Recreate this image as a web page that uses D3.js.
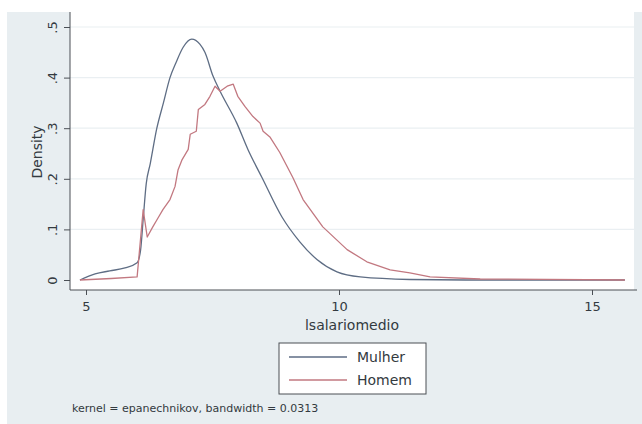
<!DOCTYPE html>
<html>
<head>
<meta charset="utf-8">
<script src="https://cdn.jsdelivr.net/npm/d3@7"></script>
<style>
  html, body { margin: 0; padding: 0; background: #ffffff; }
  svg { display: block; }
  text { font-family: "DejaVu Sans", sans-serif; fill: #333a40; }
</style>
</head>
<body>
<svg id="chart" width="642" height="424"></svg>
<script>
// Kernel density estimates of lsalariomedio by sex
const mulherX = [4.88, 5.18, 5.47, 5.77, 6.01, 6.08, 6.13, 6.19, 6.27, 6.40, 6.53, 6.66, 6.78, 6.92, 7.09, 7.25, 7.35, 7.51, 7.65, 7.98, 8.20, 8.48, 8.87, 9.23, 9.57, 9.96, 10.42, 11.40, 12.5, 15.65];
const mulherDensity = [0.0, 0.012, 0.018, 0.024, 0.034, 0.060, 0.120, 0.190, 0.230, 0.300, 0.350, 0.400, 0.430, 0.460, 0.476, 0.466, 0.450, 0.403, 0.373, 0.310, 0.258, 0.202, 0.125, 0.075, 0.040, 0.016, 0.006, 0.001, 0.0, 0.0];

const homemX = [4.88, 5.5, 6.01, 6.13, 6.21, 6.32, 6.42, 6.52, 6.66, 6.76, 6.82, 6.90, 7.02, 7.06, 7.18, 7.22, 7.35, 7.45, 7.55, 7.65, 7.79, 7.91, 8.00, 8.14, 8.30, 8.44, 8.50, 8.64, 8.83, 9.09, 9.29, 9.68, 10.16, 10.55, 11.01, 11.40, 11.80, 12.79, 15.65];
const homemDensity = [0.0, 0.003, 0.006, 0.139, 0.085, 0.105, 0.122, 0.139, 0.159, 0.185, 0.218, 0.238, 0.258, 0.288, 0.294, 0.337, 0.347, 0.363, 0.383, 0.373, 0.383, 0.387, 0.363, 0.343, 0.323, 0.310, 0.294, 0.282, 0.252, 0.202, 0.159, 0.105, 0.060, 0.036, 0.020, 0.014, 0.006, 0.002, 0.0];

const xTicks = [5, 10, 15];
const yTicks = [0, 0.1, 0.2, 0.3, 0.4, 0.5];
const yTickLabels = ["0", ".1", ".2", ".3", ".4", ".5"];
const seriesNames = ["Mulher", "Homem"];
const seriesColors = ["#5e6d84", "#c27880"];

const svg = d3.select("#chart");

// graph region background
svg.append("rect").attr("x", 7).attr("y", 12).attr("width", 635).attr("height", 412).attr("fill", "#e8eef1");

const plot = { left: 70, right: 634, top: 12, bottom: 290 };
svg.append("rect")
  .attr("x", plot.left).attr("y", plot.top)
  .attr("width", plot.right - plot.left).attr("height", plot.bottom - plot.top)
  .attr("fill", "#ffffff");

const x = d3.scaleLinear().domain([5, 15]).range([86, 592]);
const y = d3.scaleLinear().domain([0, 0.5]).range([280, 27]);

// horizontal grid
svg.append("g").selectAll("line").data(yTicks.slice(1)).join("line")
  .attr("x1", plot.left).attr("x2", plot.right)
  .attr("y1", d => y(d)).attr("y2", d => y(d))
  .attr("stroke", "#eaeff2").attr("stroke-width", 1.2);

// density curves
const series = [
  { name: seriesNames[0], xs: mulherX, ys: mulherDensity, color: seriesColors[0], curve: d3.curveMonotoneX },
  { name: seriesNames[1], xs: homemX, ys: homemDensity, color: seriesColors[1], curve: d3.curveLinear }
];
series.forEach(s => {
  const pts = s.xs.map((v, i) => [v, s.ys[i]]);
  const line = d3.line().x(d => x(d[0])).y(d => y(d[1])).curve(s.curve);
  svg.append("path").datum(pts)
    .attr("d", line)
    .attr("fill", "none")
    .attr("stroke", s.color)
    .attr("stroke-width", 1.3)
    .attr("stroke-linejoin", "round");
});

// y axis
const yAxis = svg.append("g").attr("transform", `translate(${plot.left},0)`)
  .call(d3.axisLeft(y).tickValues(yTicks).tickSize(6).tickFormat((d, i) => yTickLabels[i]));
yAxis.select(".domain").attr("d", `M0,${plot.top}V${plot.bottom}`).attr("stroke", "#4a4f55");
yAxis.selectAll(".tick line").attr("stroke", "#4a4f55");
yAxis.selectAll(".tick text")
  .attr("x", null).attr("dy", null)
  .attr("text-anchor", "middle")
  .attr("transform", "translate(-18,0) rotate(-90)")
  .attr("dy", "0.35em")
  .style("font-size", "13px").style("font-family", "DejaVu Sans").attr("fill", "#333a40");

// x axis
const xAxis = svg.append("g").attr("transform", `translate(0,${plot.bottom})`)
  .call(d3.axisBottom(x).tickValues(xTicks).tickSize(5).tickFormat(d3.format("d")));
xAxis.select(".domain").attr("d", `M${plot.left},0H637`).attr("stroke", "#4a4f55");
xAxis.selectAll(".tick line").attr("stroke", "#4a4f55");
xAxis.selectAll(".tick text")
  .attr("y", 12)
  .style("font-size", "13px").style("font-family", "DejaVu Sans").attr("fill", "#333a40");

// axis titles
svg.append("text").attr("transform", "translate(42,152) rotate(-90)")
  .attr("text-anchor", "middle").style("font-size", "14px").text("Density");
svg.append("text").attr("x", 352).attr("y", 330)
  .attr("text-anchor", "middle").style("font-size", "14px").text("lsalariomedio");

// legend
const lg = svg.append("g");
lg.append("rect").attr("x", 279).attr("y", 343).attr("width", 147).attr("height", 51)
  .attr("fill", "#ffffff").attr("stroke", "#4a4f55").attr("stroke-width", 1);
series.forEach((s, i) => {
  const yy = 357 + i * 23;
  lg.append("line").attr("x1", 289).attr("x2", 347).attr("y1", yy).attr("y2", yy)
    .attr("stroke", s.color).attr("stroke-width", 1.3);
  lg.append("text").attr("x", 357).attr("y", yy + 5).style("font-size", "14px").text(s.name);
});

// note
svg.append("text").attr("x", 72).attr("y", 412)
  .style("font-size", "11px").text("kernel = epanechnikov, bandwidth = 0.0313");
</script>
</body>
</html>
